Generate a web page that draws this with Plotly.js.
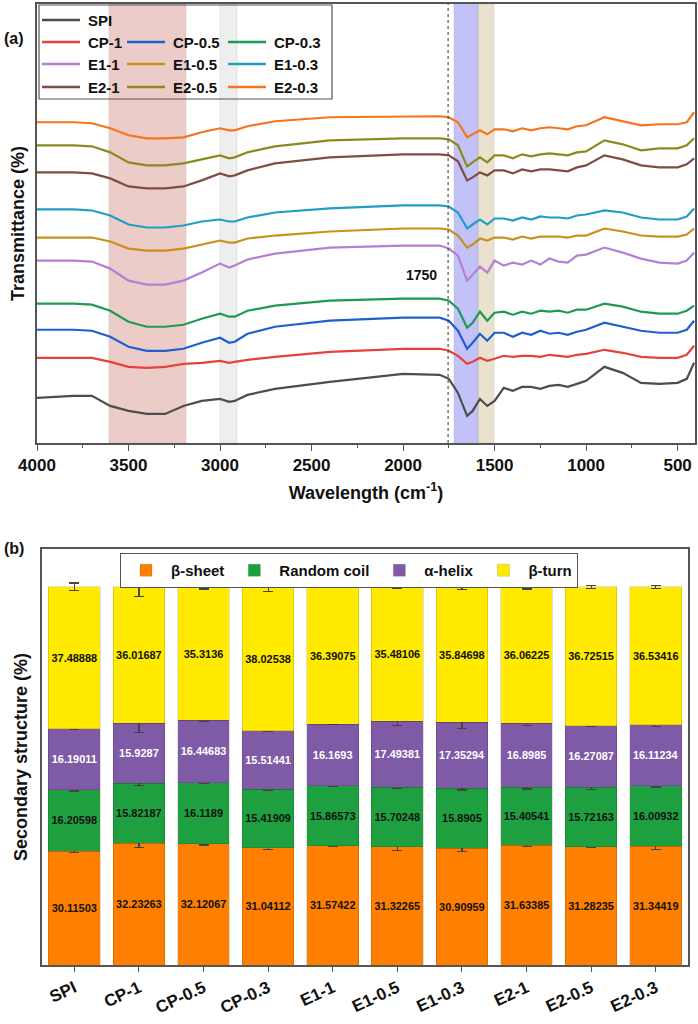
<!DOCTYPE html>
<html>
<head>
<meta charset="utf-8">
<script src="https://cdn.plot.ly/plotly-3.0.1.min.js"></script>
<style>body{margin:0;background:#fff}</style>
</head>
<body>
<div id="chart" style="width:698px;height:1024px"></div>
<script>
// FTIR spectra (a) - transmittance in arbitrary stacked units
const wavenumber = [4000,3800,3700,3600,3500,3400,3300,3200,3100,3000,2950,2920,2850,2700,2400,2000,1800,1750,1700,1650,1620,1580,1540,1500,1450,1400,1350,1300,1250,1200,1150,1100,1050,1000,900,800,700,600,500,450,410];
const spectraNames = ['SPI','CP-1','CP-0.5','CP-0.3','E1-1','E1-0.5','E1-0.3','E2-1','E2-0.5','E2-0.3'];
const spectraColors = ['#4d4d4d','#e8413c','#1f5fcf','#1f9a55','#b57fd6','#c9911a','#1f9fc4','#7d4e43','#8a8a1e','#f5741d'];
const SPI   = [53,55,55,45,40,37,37,45,50,52,49,50,56,62,69,77,76,72,58,35,40,52,45,50,63,60,64,64,62,65,66,64,67,70,84,78,68,67,68,72,88];
const CP1   = [93,93,93,89,84,83,84,87,88,90,88,89,91,94,99,102,102,100,95,87,89,93,90,92,95,94,95,95,94,96,95,94,96,97,101,98,94,93,93,96,105];
const CP05  = [121,121,120,114,104,100,100,102,108,113,108,109,117,124,130,133,133,130,120,102,108,117,110,118,118,114,118,116,120,117,118,116,119,121,128,124,120,118,118,121,130];
const CP03  = [147,147,146,140,129,124,124,126,132,137,134,134,140,145,150,152,152,150,142,123,128,139,130,138,139,136,139,137,140,139,140,138,141,141,147,144,139,137,137,140,145];
const E1_1  = [190,190,189,182,170,166,166,170,178,187,183,185,191,197,203,205,205,202,195,170,176,184,178,190,185,188,186,190,186,192,189,188,195,196,203,198,192,188,187,190,198];
const E1_05 = [213,213,213,209,202,200,200,202,206,210,208,208,212,215,219,222,222,221,215,203,206,212,210,213,213,211,214,212,214,214,214,213,215,215,222,219,215,214,214,216,222];
const E1_03 = [241,241,240,235,226,223,223,225,229,231,229,229,233,238,242,245,245,244,238,222,226,231,226,232,232,230,233,231,234,233,233,232,235,236,240,238,233,231,231,234,242];
const E2_1  = [278,278,277,272,264,262,262,264,270,277,274,275,280,287,293,296,296,295,289,270,273,278,275,280,280,277,281,279,281,281,280,279,283,285,295,291,285,283,283,286,292];
const E2_05 = [305,305,304,298,288,285,285,287,291,295,292,293,298,304,310,312,312,311,305,284,288,293,288,295,295,292,296,294,296,297,296,295,298,299,310,306,300,302,302,305,312];
const E2_03 = [328,328,327,322,315,312,312,313,318,322,320,320,324,329,333,334,334,333,328,313,316,320,316,321,321,319,322,320,322,323,322,321,324,325,333,329,325,326,326,328,338];
const spectra = [SPI,CP1,CP05,CP03,E1_1,E1_05,E1_03,E2_1,E2_05,E2_03];

// secondary structure (b)
const samples = ['SPI','CP-1','CP-0.5','CP-0.3','E1-1','E1-0.5','E1-0.3','E2-1','E2-0.5','E2-0.3'];
const betaSheet = [30.11503,32.23263,32.12067,31.04112,31.57422,31.32265,30.90959,31.63385,31.28235,31.34419];
const randomCoil = [16.20598,15.82187,16.1189,15.41909,15.86573,15.70248,15.8905,15.40541,15.72163,16.00932];
const alphaHelix = [16.19011,15.9287,16.44683,15.51441,16.1693,17.49381,17.35294,16.8985,16.27087,16.11234];
const betaTurn = [37.48888,36.01687,35.3136,38.02538,36.39075,35.48106,35.84698,36.06225,36.72515,36.53416];
const sheetErr = [0.3,1.2,0.4,0.6,0.1,1.0,1.0,0.2,0.2,0.7];
const coilErr = [0.3,0.5,0.1,0.3,0.1,0.3,0.5,0.5,0.5,0.3];
const helixErr = [0.3,2.6,0.3,0.3,0.1,1.2,1.6,0.7,0.1,0.3];
const turnErr = [1.0,2.6,0.6,1.2,0.1,0.3,0.8,0.6,0.4,0.4];

const FONT = 'Liberation Sans, Arial, sans-serif';
const traces = [];
spectra.forEach((s, i) => {
  traces.push({x: wavenumber, y: s, type: 'scatter', mode: 'lines', name: spectraNames[i],
    line: {color: spectraColors[i], width: 2.2}, xaxis: 'x', yaxis: 'y', showlegend: false});
});

const parts = [
  {name: 'β-sheet', v: betaSheet, e: sheetErr, c: '#ff8000', tc: '#111'},
  {name: 'Random coil', v: randomCoil, e: coilErr, c: '#1fa040', tc: '#111'},
  {name: 'α-helix', v: alphaHelix, e: helixErr, c: '#7f5aa6', tc: '#fff'},
  {name: 'β-turn', v: betaTurn, e: turnErr, c: '#ffea00', tc: '#111'}
];
parts.forEach(p => {
  traces.push({x: samples, y: p.v, type: 'bar', name: p.name, xaxis: 'x2', yaxis: 'y2',
    marker: {color: p.c, line: {color: 'rgba(0,0,0,0.25)', width: 0.5}},
    text: p.v.map(String), textposition: 'inside', insidetextanchor: 'middle', textangle: 0,
    textfont: {family: FONT, size: 11, color: p.tc, weight: 'bold'},
    error_y: {type: 'data', array: p.e, visible: true, color: '#444', thickness: 1.2, width: 5}});
});

// manual legend for panel (a)
const shapes = [];
const annotations = [];
const cols = [42, 127, 228];
const rows = [20, 42, 64, 87];
spectraNames.forEach((n, i) => {
  let r, c;
  if (i === 0) { r = 0; c = 0; } else { r = 1 + Math.floor((i - 1) / 3); c = (i - 1) % 3; }
  const x0 = cols[c], yy = rows[r];
  shapes.push({type: 'line', xref: 'paper', yref: 'paper', x0: x0 / 698, x1: (x0 + 38) / 698,
    y0: 1 - yy / 1024, y1: 1 - yy / 1024, line: {color: spectraColors[i], width: 2.5}});
  annotations.push({xref: 'paper', yref: 'paper', x: (x0 + 44) / 698, y: 1 - yy / 1024, xanchor: 'left',
    yanchor: 'middle', text: '<b>' + n + '</b>', showarrow: false, font: {family: FONT, size: 15, color: '#111'}});
});
shapes.push({type: 'rect', xref: 'paper', yref: 'paper', x0: 39 / 698, x1: 332 / 698, y0: 1 - 99 / 1024, y1: 1 - 5 / 1024,
  line: {color: '#555', width: 1.2}, fillcolor: 'rgba(0,0,0,0)'});

// highlighted bands
const bands = [[3607, 3186, 'rgba(205,120,110,0.38)'], [3000, 2907, 'rgba(200,200,200,0.3)'],
  [1722, 1590, 'rgba(110,110,240,0.42)'], [1590, 1503, 'rgba(200,180,130,0.38)']];
bands.forEach(b => shapes.push({type: 'rect', xref: 'x', yref: 'y domain', x0: b[0], x1: b[1], y0: 0, y1: 1,
  fillcolor: b[2], line: {width: 0.5, color: 'rgba(150,150,150,0.4)'}, layer: 'below'}));
shapes.push({type: 'line', xref: 'x', yref: 'y domain', x0: 1754, x1: 1754, y0: 0, y1: 1,
  line: {color: '#333', width: 1, dash: 'dot'}});

annotations.push({xref: 'x', yref: 'y', x: 1900, y: 176, text: '<b>1750</b>', showarrow: false,
  font: {family: FONT, size: 14, color: '#111'}});
annotations.push({xref: 'paper', yref: 'paper', x: 2 / 698, y: 1 - 28 / 1024, xanchor: 'left', text: '<b>(a)</b>',
  showarrow: false, font: {family: FONT, size: 16, color: '#111'}});
annotations.push({xref: 'paper', yref: 'paper', x: 2 / 698, y: 1 - 548 / 1024, xanchor: 'left', text: '<b>(b)</b>',
  showarrow: false, font: {family: FONT, size: 16, color: '#111'}});

const axBase = {showline: true, linecolor: '#555', linewidth: 1.5, mirror: true, showgrid: false, zeroline: false};
const layout = {
  width: 698, height: 1024, margin: {l: 0, r: 0, t: 0, b: 0},
  paper_bgcolor: '#fff', plot_bgcolor: '#fff', font: {family: FONT, color: '#111'},
  barmode: 'stack', bargap: 0.2,
  xaxis: Object.assign({}, axBase, {domain: [37 / 698, 695 / 698], anchor: 'y', range: [4000, 405],
    tickvals: [4000, 3500, 3000, 2500, 2000, 1500, 1000, 500], ticks: 'outside', ticklen: 6, tickcolor: '#555',
    minor: {dtick: 250, ticks: 'outside', ticklen: 3, tickcolor: '#555'},
    tickfont: {size: 17, weight: 'bold'},
    title: {text: '<b>Wavelength (cm<sup>-1</sup>)</b>', font: {size: 18}, standoff: 12}}),
  yaxis: Object.assign({}, axBase, {domain: [1 - 443 / 1024, 1 - 4 / 1024], anchor: 'x', range: [8, 446],
    showticklabels: false, ticks: '',
    title: {text: '<b>Transmittance (%)</b>', font: {size: 18}, standoff: 6}}),
  xaxis2: Object.assign({}, axBase, {domain: [42 / 698, 688 / 698], anchor: 'y2', ticks: 'outside', ticklen: 5,
    tickcolor: '#555', tickangle: -25, tickfont: {size: 17, weight: 'bold'}}),
  yaxis2: Object.assign({}, axBase, {domain: [1 - 965 / 1024, 1 - 549 / 1024], anchor: 'x2', range: [0, 110],
    showticklabels: false, ticks: '',
    title: {text: '<b>Secondary structure (%)</b>', font: {size: 18}, standoff: 8}}),
  legend: {orientation: 'h', x: 120 / 698, y: 1 - 553 / 1024, xanchor: 'left', yanchor: 'top',
    traceorder: 'normal', bordercolor: '#555', borderwidth: 1, bgcolor: '#fff',
    font: {size: 15, weight: 'bold'}, itemwidth: 40, tracegroupgap: 0},
  shapes: shapes, annotations: annotations
};
Plotly.newPlot('chart', traces, layout, {displayModeBar: false});
</script>
</body>
</html>
